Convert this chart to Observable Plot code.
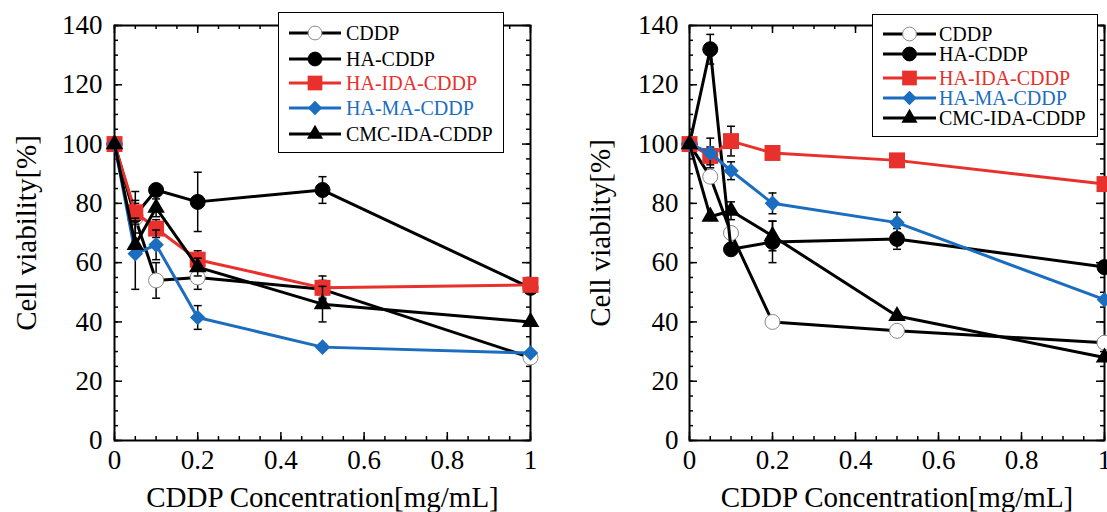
<!DOCTYPE html>
<html><head><meta charset="utf-8">
<script src="https://cdn.jsdelivr.net/npm/d3@7"></script>
<script src="https://cdn.jsdelivr.net/npm/@observablehq/plot@0.6"></script>
<style>
body{margin:0;background:#fff;}
#wrap{position:relative;width:1107px;height:512px;overflow:hidden;font-family:"Liberation Serif","Times New Roman",serif;}
.panel{position:absolute;top:0;}
.legend{position:absolute;background:#fff;border:1.5px solid #000;box-sizing:border-box;}
.row{position:absolute;left:0;height:24px;display:flex;align-items:center;font-size:20px;white-space:nowrap;line-height:24px;}
.row svg{display:block;flex:none;}
</style></head><body><div id="wrap"></div>
<script>
// ---------- data ----------
const concentrations = [0, 0.05, 0.1, 0.2, 0.5, 1];
const seriesNames = ["CDDP", "HA-CDDP", "HA-IDA-CDDP", "HA-MA-CDDP", "CMC-IDA-CDDP"];
const xTickLabels = [0, 0.2, 0.4, 0.6, 0.8, 1];
const yTickLabels = [0, 20, 40, 60, 80, 100, 120, 140];

// left panel values (%)
const leftCDDP   = [100, 75, 54, 55, 51, 28];
const leftHA     = [100, 76, 84.5, 80.5, 84.5, 51.5];
const leftHAIDA  = [100, 77, 71.5, 61, 51.5, 52.5];
const leftHAMA   = [100, 63, 66, 41.5, 31.5, 29.5];
const leftCMC    = [100, 66, 78.5, 58.5, 46, 40];
// left panel error (+/-)
const leftCDDPErr  = [0, 5, 6, 4, 3, 0];
const leftHAErr    = [0, 8, 0, 10, 4.5, 0];
const leftHAIDAErr = [0, 4, 3, 3, 4, 0];
const leftHAMAErr  = [0, 12, 5, 4, 1, 0];
const leftCMCErr   = [0, 0, 3, 3, 6, 0];

// right panel values (%)
const rightCDDP  = [100, 89, 70, 40, 37, 33];
const rightHA    = [100, 132, 64.5, 67, 68, 58.5];
const rightHAIDA = [100, 96, 101, 97, 94.5, 86.5];
const rightHAMA  = [100, 97, 91, 80, 73.5, 47.5];
const rightCMC   = [100, 75.5, 77.5, 69, 42, 28];
// right panel error (+/-)
const rightCDDPErr  = [0, 0, 0, 0, 0, 0];
const rightHAErr    = [0, 5, 0, 7, 3.5, 2];
const rightHAIDAErr = [0, 3, 5, 0, 0, 0];
const rightHAMAErr  = [0, 5, 3, 3.5, 3.5, 0];
const rightCMCErr   = [0, 0, 3, 5, 0, 0];

// ---------- styles ----------
const SERIF = "Liberation Serif";
const RED = "#e8302c", BLUE = "#1b6dbf";
const seriesColors  = ["#000", "#000", RED, BLUE, "#000"];
const markerSymbols = ["circle", "circle", "square", "diamond2", "triangle"];
const d3Symbols     = [d3.symbolCircle, d3.symbolCircle, d3.symbolSquare, d3.symbolDiamond2, d3.symbolTriangle];
const markerFills   = ["#fff", "#000", RED, BLUE, "#000"];
const markerStrokes = ["#888", "#000", "none", "none", "none"];
const markerR       = [7.5, 7.5, 9, 7, 6.5];
const textColors    = ["#000", "#000", RED, BLUE, "#000"];

const capSymbol = {draw(ctx, size) { const w = Math.sqrt(size / Math.PI); ctx.moveTo(-w, 0); ctx.lineTo(w, 0); }};

function toRows(vals, errs) {
  return concentrations.map((x, j) => ({x, y: vals[j], e: errs[j]}));
}

function makePanel({values, errors, width, marginLeft, marginRight, yLabel, yLabelDx, yTickPad}) {
  const marginTop = 25, marginBottom = 72, height = 512;
  const iw = width - marginLeft - marginRight, ih = height - marginTop - marginBottom;
  const yMinor = d3.range(0, 141, 5), xMinor = d3.range(0, 1.0001, 0.05);
  const marks = [];
  const tk = {stroke: "#000", strokeWidth: 1.5};
  const txt = {fontFamily: SERIF, fill: "#000"};
  marks.push(
    Plot.tickY(yMinor, {y: d => d, insetRight: iw - 4, ...tk}),
    Plot.tickY(yTickLabels, {y: d => d, insetRight: iw - 8, ...tk}),
    Plot.tickY(yMinor, {y: d => d, insetLeft: iw - 4, ...tk}),
    Plot.tickY(yTickLabels, {y: d => d, insetLeft: iw - 8, ...tk}),
    Plot.tickX(xMinor, {x: d => d, insetTop: ih - 4, ...tk}),
    Plot.tickX(xTickLabels, {x: d => d, insetTop: ih - 8, ...tk}),
    Plot.tickX(xMinor, {x: d => d, insetBottom: ih - 4, ...tk}),
    Plot.tickX(xTickLabels, {x: d => d, insetBottom: ih - 8, ...tk}),
    Plot.frame({stroke: "#000", strokeWidth: 2}),
    // tick labels
    Plot.text(xTickLabels, {x: d => d, text: d => String(d), frameAnchor: "bottom", dy: 20, fontSize: 27, textAnchor: "middle", lineAnchor: "middle", ...txt}),
    Plot.text(yTickLabels, {y: d => d, text: d => String(d), frameAnchor: "left", dx: -yTickPad, fontSize: 27, textAnchor: "end", lineAnchor: "middle", ...txt}),
    // axis titles
    Plot.text([yLabel], {text: d => d, frameAnchor: "left", dx: yLabelDx, rotate: -90, fontSize: 29, textAnchor: "middle", lineAnchor: "middle", ...txt}),
    Plot.text(["CDDP Concentration[mg/mL]"], {text: d => d, frameAnchor: "bottom", dy: 57, fontSize: 29, textAnchor: "middle", lineAnchor: "middle", ...txt})
  );
  values.forEach((vals, i) => {
    const rows = toRows(vals, errors[i]);
    const err = rows.filter(d => d.e > 0);
    marks.push(
      Plot.line(rows, {x: "x", y: "y", stroke: seriesColors[i], strokeWidth: 3}),
      Plot.ruleX(err, {x: "x", y1: d => d.y - d.e, y2: d => d.y + d.e, stroke: "#000", strokeWidth: 1.5}),
      Plot.dot(err, {x: "x", y: d => d.y + d.e, symbol: capSymbol, r: 4, fill: "none", stroke: "#000", strokeWidth: 1.5}),
      Plot.dot(err, {x: "x", y: d => d.y - d.e, symbol: capSymbol, r: 4, fill: "none", stroke: "#000", strokeWidth: 1.5}),
      Plot.dot(rows, {x: "x", y: "y", symbol: markerSymbols[i], r: markerR[i], fill: markerFills[i], stroke: markerStrokes[i], strokeWidth: 1})
    );
  });
  return Plot.plot({
    width, height, marginTop, marginBottom, marginLeft, marginRight,
    x: {domain: [0, 1], axis: null}, y: {domain: [0, 140], axis: null},
    style: {fontFamily: "'Liberation Serif','Times New Roman',serif", fontSize: "26px", color: "#000", background: "transparent", overflow: "visible"},
    marks
  });
}

const wrap = document.getElementById("wrap");

const left = makePanel({
  values: [leftCDDP, leftHA, leftHAIDA, leftHAMA, leftCMC],
  errors: [leftCDDPErr, leftHAErr, leftHAIDAErr, leftHAMAErr, leftCMCErr],
  width: 560, marginLeft: 114, marginRight: 30, yLabel: "Cell viability[%]", yLabelDx: -88, yTickPad: 12
});
left.classList.add("panel"); left.style.left = "0px";
wrap.appendChild(left);

const right = makePanel({
  values: [rightCDDP, rightHA, rightHAIDA, rightHAMA, rightCMC],
  errors: [rightCDDPErr, rightHAErr, rightHAIDAErr, rightHAMAErr, rightCMCErr],
  width: 547, marginLeft: 129, marginRight: 3, yLabel: "Cell viablity[%]", yLabelDx: -89, yTickPad: 11
});
right.classList.add("panel"); right.style.left = "560px";
wrap.appendChild(right);

// ---------- legends ----------
function legend({x, y, w, h, rowCenters, lineX0, lineX1, textX}) {
  const box = document.createElement("div");
  box.className = "legend";
  Object.assign(box.style, {left: x + "px", top: y + "px", width: w + "px", height: h + "px"});
  seriesNames.forEach((name, i) => {
    const row = document.createElement("div");
    row.className = "row";
    row.style.top = (rowCenters[i] - y - 12) + "px";
    row.style.left = lineX0 - x + "px";
    const sw = textX - lineX0;
    const svg = d3.create("svg").attr("width", sw).attr("height", 24);
    svg.append("line").attr("x1", 0).attr("x2", lineX1 - lineX0).attr("y1", 12).attr("y2", 12)
      .attr("stroke", seriesColors[i]).attr("stroke-width", 3);
    svg.append("path").attr("transform", `translate(${(lineX1 - lineX0) / 2},12)`)
      .attr("d", d3.symbol(d3Symbols[i], Math.PI * markerR[i] * markerR[i] * 0.85)())
      .attr("fill", markerFills[i]).attr("stroke", markerStrokes[i]);
    row.appendChild(svg.node());
    const t = document.createElement("span");
    t.textContent = name; t.style.color = textColors[i];
    row.appendChild(t);
    box.appendChild(row);
  });
  wrap.appendChild(box);
}
legend({x: 278, y: 12, w: 226, h: 141, rowCenters: [32, 58, 82, 107, 133], lineX0: 288, lineX1: 340, textX: 345});
legend({x: 872, y: 14, w: 226, h: 123, rowCenters: [33, 53, 77, 97, 117], lineX0: 882, lineX1: 935, textX: 938});
</script></body></html>
